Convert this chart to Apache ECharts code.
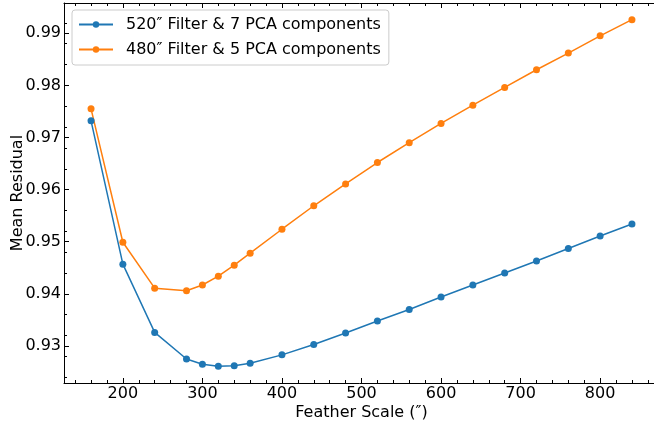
<!DOCTYPE html>
<html>
<head>
<meta charset="utf-8">
<script src="https://cdn.jsdelivr.net/npm/echarts@6/dist/echarts.min.js"></script>
<style>
html,body{margin:0;padding:0;background:#fff;}
#chart{width:654px;height:424px;}
</style>
</head>
<body>
<div id="chart"></div>
<script>
const featherScale = [160,200,240,280,300,320,340,360,400,440,480,520,560,600,640,680,720,760,800,840];
const filter520 = [0.9732,0.9457,0.9326,0.9275,0.9265,0.9261,0.9262,0.9267,0.9283,0.9303,0.9325,0.9348,0.9370,0.9394,0.9417,0.9440,0.9463,0.9487,0.9511,0.9534];
const filter480 = [0.9755,0.9499,0.9411,0.9406,0.9417,0.9434,0.9455,0.9478,0.9524,0.9569,0.9611,0.9652,0.9690,0.9727,0.9762,0.9796,0.9830,0.9862,0.9895,0.9926];
const seriesNames = ["520\u2033 Filter & 7 PCA components", "480\u2033 Filter & 5 PCA components"];
const xTicks = [200,300,400,500,600,700,800];
const yTicks = [0.93,0.94,0.95,0.96,0.97,0.98,0.99];
const xName = "Feather Scale (\u2033)";
const yName = "Mean Residual";

const xMinor = [];
for (let v = 140; v <= 860; v += 20) xMinor.push(v);
const yMinor = [];
for (let i = 231; i <= 249; i += 1) yMinor.push(i / 250);

const font = "'DejaVu Sans', 'DejaVu Sans Book', sans-serif";
const FS = 16;
const X_MIN = 126, X_MAX = 874, Y_MIN = 0.9229, Y_MAX = 0.9958;

function xAx(opts) {
  return Object.assign({
    type: 'value', min: X_MIN, max: X_MAX, gridIndex: 0,
    splitLine: {show: false},
    axisLine: {show: false},
    axisLabel: {show: false},
    axisTick: {show: false}
  }, opts);
}
function yAx(opts) {
  return Object.assign({
    type: 'value', min: Y_MIN, max: Y_MAX, gridIndex: 0,
    splitLine: {show: false},
    axisLine: {show: false},
    axisLabel: {show: false},
    axisTick: {show: false}
  }, opts);
}

const chart = echarts.init(document.getElementById('chart'), null, {renderer: 'canvas'});
chart.setOption({
  animation: false,
  backgroundColor: '#fff',
  textStyle: {fontFamily: font},
  grid: {left: 64, top: 3, width: 595, height: 380, containLabel: false, outerBoundsMode: 'none'},
  legend: {
    orient: 'vertical',
    left: 72, top: 10,
    padding: [5, 8, 6, 6],
    itemWidth: 34, itemHeight: 8, itemGap: 6,
    backgroundColor: 'rgba(255,255,255,0.85)',
    borderColor: '#cccccc', borderWidth: 1, borderRadius: 3,
    textStyle: {fontFamily: font, fontSize: FS, color: '#000', lineHeight: 19, padding: [0,0,0,8]},
    data: seriesNames
  },
  xAxis: [
    xAx({
      position: 'bottom', name: xName, nameLocation: 'middle', nameGap: 22, nameMoveOverlap: false,
      nameTextStyle: {fontFamily: font, fontSize: FS, color: '#000'},
      axisLine: {show: true, onZero: false, lineStyle: {color: '#000', width: 1}},
      axisLabel: {show: true, customValues: xTicks, fontFamily: font, fontSize: FS, color: '#000', margin: 3},
      axisTick: {show: true, inside: true, length: 5, customValues: xTicks, lineStyle: {color: '#000'}}
    }),
    xAx({position: 'bottom', axisTick: {show: true, inside: true, length: 3, customValues: xMinor, lineStyle: {color: '#000'}}}),
    xAx({position: 'top',
      axisLine: {show: true, onZero: false, lineStyle: {color: '#000', width: 1}},
      axisTick: {show: true, inside: true, length: 5, customValues: xTicks, lineStyle: {color: '#000'}}}),
    xAx({position: 'top', axisTick: {show: true, inside: true, length: 3, customValues: xMinor, lineStyle: {color: '#000'}}})
  ],
  yAxis: [
    yAx({
      position: 'left', name: yName, nameLocation: 'middle', nameGap: 38, nameRotate: 90, nameMoveOverlap: false,
      nameTextStyle: {fontFamily: font, fontSize: FS, color: '#000'},
      axisLine: {show: true, onZero: false, lineStyle: {color: '#000', width: 1}},
      axisLabel: {show: true, customValues: yTicks, fontFamily: font, fontSize: FS, color: '#000', margin: 3,
        formatter: v => Number(v).toFixed(2)},
      axisTick: {show: true, inside: true, length: 5, customValues: yTicks, lineStyle: {color: '#000'}}
    }),
    yAx({position: 'left', axisTick: {show: true, inside: true, length: 3, customValues: yMinor, lineStyle: {color: '#000'}}})
  ],
  series: [
    {
      name: seriesNames[0], type: 'line', xAxisIndex: 0, yAxisIndex: 0,
      data: featherScale.map((x, i) => [x, filter520[i]]),
      symbol: 'circle', symbolSize: 7, showSymbol: true,
      itemStyle: {color: '#1f77b4'}, lineStyle: {color: '#1f77b4', width: 1.5}
    },
    {
      name: seriesNames[1], type: 'line', xAxisIndex: 0, yAxisIndex: 0,
      data: featherScale.map((x, i) => [x, filter480[i]]),
      symbol: 'circle', symbolSize: 7, showSymbol: true,
      itemStyle: {color: '#ff7f0e'}, lineStyle: {color: '#ff7f0e', width: 1.5}
    }
  ]
});
</script>
</body>
</html>
